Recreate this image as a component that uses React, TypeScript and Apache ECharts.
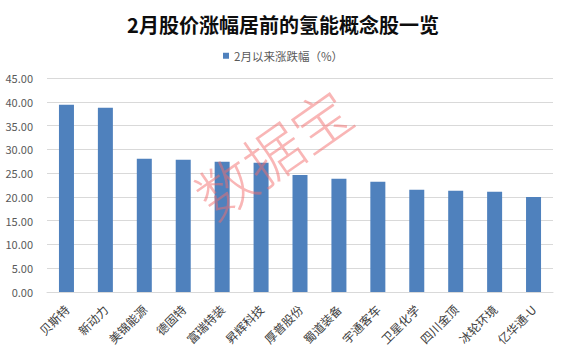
import React, { useEffect, useRef } from "react";
import * as echarts from "echarts";

const categories = ["贝斯特", "新动力", "美锦能源", "德固特", "富瑞特装", "昇辉科技", "厚普股份", "蜀道装备", "宇通客车", "卫星化学", "四川金顶", "冰轮环境", "亿华通-U"];
const values = [39.37, 38.74, 28.0, 27.8, 27.4, 27.2, 24.6, 23.8, 23.2, 21.5, 21.3, 21.1, 20.0];
const seriesName = "2月以来涨跌幅（%）";
const titleText = "2月股价涨幅居前的氢能概念股一览";
const watermark = "数据宝";

const FONT = "'Noto Sans CJK SC', 'Noto Sans', sans-serif";

export default function App() {
  const ref = useRef<HTMLDivElement>(null);
  useEffect(() => {
    if (!ref.current) return;
    const chart = echarts.init(ref.current, null, { renderer: "svg" });
    chart.setOption({
      animation: false,
      backgroundColor: "#ffffff",
      title: {
        text: titleText,
        left: "center",
        top: 9,
        textStyle: { fontSize: 20, fontWeight: "bold", color: "#0d0d0d", fontFamily: FONT },
      },
      legend: {
        data: [seriesName],
        left: "center",
        top: 45,
        itemWidth: 6,
        itemHeight: 6,
        icon: "rect",
        itemGap: 5,
        textStyle: { fontSize: 11.5, color: "#595959", fontFamily: FONT },
      },
      grid: { left: 47, right: 13, top: 78, bottom: 63, containLabel: false },
      xAxis: {
        type: "category",
        data: categories,
        axisLine: { lineStyle: { color: "#d9d9d9" } },
        axisTick: { show: false },
        axisLabel: { interval: 0, rotate: 45, fontSize: 12, color: "#404040", margin: 15, fontFamily: FONT },
      },
      yAxis: {
        type: "value",
        min: 0,
        max: 45,
        interval: 5,
        axisLine: { show: false },
        axisTick: { show: false },
        splitLine: { lineStyle: { color: "#d9d9d9" } },
        axisLabel: {
          fontSize: 11,
          color: "#595959",
          margin: 14,
          fontFamily: FONT,
          formatter: (v: number) => v.toFixed(2),
        },
      },
      series: [
        {
          name: seriesName,
          type: "bar",
          data: values,
          barWidth: 15,
          itemStyle: { color: "#4f81bd" },
        },
      ],
      graphic: [
        {
          type: "text",
          x: 272,
          y: 152,
          rotation: (35 * Math.PI) / 180,
          z: 100,
          style: {
            text: watermark,
            fontSize: 58,
            fontWeight: 300,
            fontFamily: FONT,
            fill: "rgba(244, 110, 110, 0.5)",
            align: "center",
            verticalAlign: "middle",
          },
        },
      ],
    });
    return () => chart.dispose();
  }, []);
  return (
    <div
      ref={ref}
      style={{ position: "absolute", left: 0, top: 0, width: 566, height: 355 }}
    />
  );
}
